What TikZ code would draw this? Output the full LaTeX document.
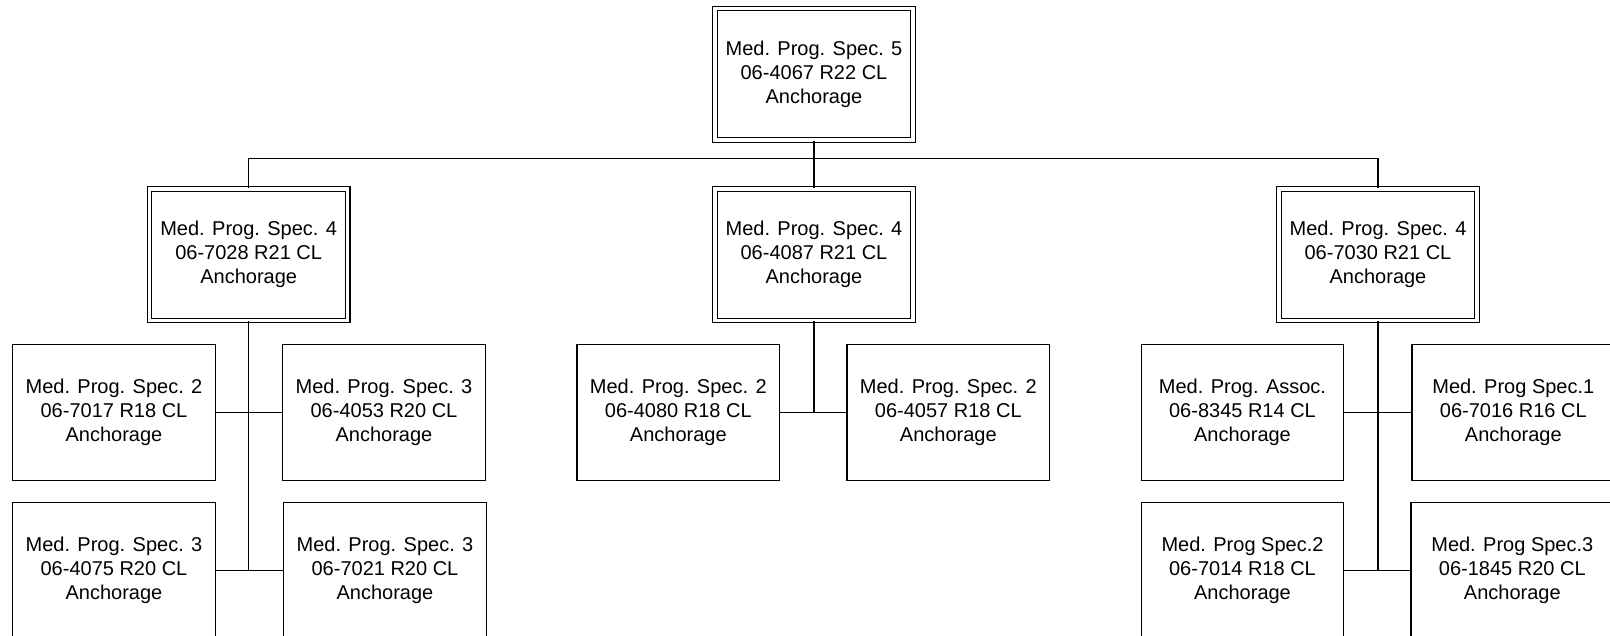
\documentclass[tikz,border=0pt]{standalone}
\usepackage{fontspec}
\setmainfont{Liberation Sans}

\begin{document}
\begin{tikzpicture}[x=1pt,y=-1pt,line width=1.2pt,
  post/.style={draw, line width=1.2pt, minimum width=202.6pt, minimum height=135.6pt,
    inner sep=0pt, align=center, font=\fontsize{20}{24}\selectfont},
  lead/.style={post, double, double distance=3.3pt, minimum width=198.2pt, minimum height=131.5pt}]

% sichtbarer Ausschnitt
\clip (0,0) rectangle (1610,636);

% oberste Stelle
\node[lead] (top) at (814,74.2) {Med. Prog. Spec. 5\\06-4067 R22 CL\\Anchorage};

% zweite Ebene
\node[lead] (leadL) at (248.7,254.7) {Med. Prog. Spec. 4\\06-7028 R21 CL\\Anchorage};
\node[lead] (leadM) at (814,254.7) {Med. Prog. Spec. 4\\06-4087 R21 CL\\Anchorage};
\node[lead] (leadR) at (1378,254.7) {Med. Prog. Spec. 4\\06-7030 R21 CL\\Anchorage};

% Gruppe links
\node[post] (postLa) at (114,412.5) {Med. Prog. Spec. 2\\06-7017 R18 CL\\Anchorage};
\node[post] (postLb) at (384,412.5) {Med. Prog. Spec. 3\\06-4053 R20 CL\\Anchorage};
\node[post] (postLc) at (114,570.5) {Med. Prog. Spec. 3\\06-4075 R20 CL\\Anchorage};
\node[post] (postLd) at (385,570.5) {Med. Prog. Spec. 3\\06-7021 R20 CL\\Anchorage};

% Gruppe Mitte
\node[post] (postMa) at (678.3,412.5) {Med. Prog. Spec. 2\\06-4080 R18 CL\\Anchorage};
\node[post] (postMb) at (948.3,412.5) {Med. Prog. Spec. 2\\06-4057 R18 CL\\Anchorage};

% Gruppe rechts
\node[post] (postRa) at (1242.5,412.5) {Med. Prog. Assoc.\\06-8345 R14 CL\\Anchorage};
\node[post] (postRb) at (1513.3,412.5) {Med. Prog Spec.1\\06-7016 R16 CL\\Anchorage};
\node[post] (postRc) at (1242.5,570.5) {Med. Prog Spec.2\\06-7014 R18 CL\\Anchorage};
\node[post] (postRd) at (1512.3,570.5) {Med. Prog Spec.3\\06-1845 R20 CL\\Anchorage};

% Verteiler oben
\coordinate (bus) at (814,158.7);
\draw (top.south) -- (bus);
\draw (leadL.north) |- (bus) -| (leadR.north);
\draw (bus) -- (leadM.north);

% Linien links
\draw (leadL.south) -- (leadL.south |- postLc.east);
\draw (postLa.east) -- (postLb.west);
\draw (postLc.east) -- (postLd.west);

% Linien Mitte
\draw (leadM.south) -- (leadM.south |- postMa.east);
\draw (postMa.east) -- (postMb.west);

% Linien rechts
\draw (leadR.south) -- (leadR.south |- postRc.east);
\draw (postRa.east) -- (postRb.west);
\draw (postRc.east) -- (postRd.west);

\end{tikzpicture}
\end{document}
